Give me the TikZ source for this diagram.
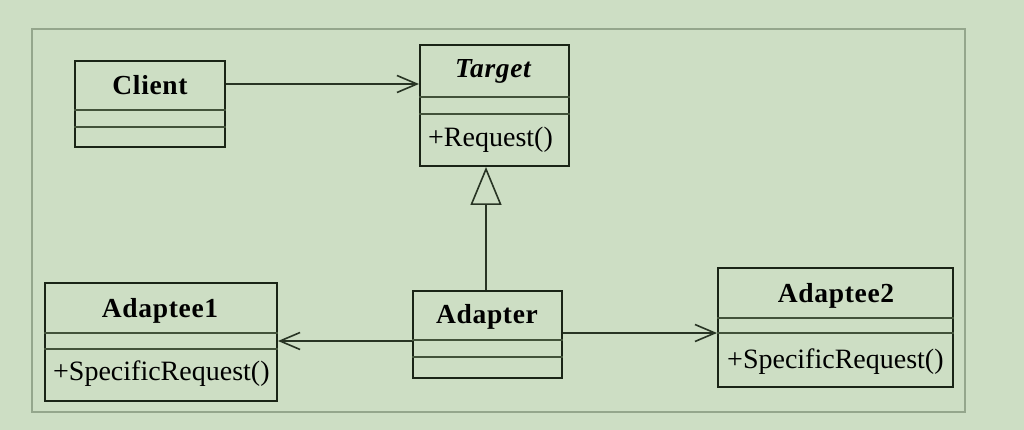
\documentclass[tikz,border=0pt]{standalone}
\usepackage{fontspec}
\setmainfont{Liberation Serif}
\newfontfamily\titlefont[LetterSpace=2.5]{Liberation Serif}
\usetikzlibrary{arrows.meta}
\definecolor{bgc}{RGB}{205,222,196}
\definecolor{framec}{RGB}{148,166,140}
\definecolor{boxc}{RGB}{26,36,22}
\definecolor{divc}{RGB}{66,82,58}
\definecolor{linec}{RGB}{40,52,36}
\begin{document}
\begin{tikzpicture}[x=1pt,y=-1pt,
  cls/.style={draw=boxc, line width=2pt, inner sep=0pt, anchor=north west},
  divider/.style={draw=divc, line width=2pt},
  title/.style={font=\titlefont\fontsize{27.5}{30}\selectfont\bfseries, text=black, inner sep=0pt, anchor=base},
  ititle/.style={title, font=\titlefont\fontsize{27.5}{30}\selectfont\bfseries\itshape},
  oper/.style={font=\fontsize{28}{30}\selectfont, text=black, inner sep=0pt, anchor=base west},
  assoc/.style={draw=linec, line width=1.6pt, -{Straight Barb[length=20pt,width=17pt,line width=1.6pt]}},
  inherit/.style={draw=linec, line width=1.6pt, -{Triangle[open,length=38pt,width=31pt,line width=1.6pt]}}
]
\useasboundingbox (0,0) rectangle (1024,430);
\fill[bgc] (0,0) rectangle (1024,430);
\draw[framec, line width=2pt] (32,29) rectangle (965,412);

% classes
\node[cls, minimum width=150pt, minimum height=86pt] (client) at (74,60) {};
\node[cls, minimum width=149pt, minimum height=121pt] (target) at (419,44) {};
\node[cls, minimum width=232pt, minimum height=118pt] (adaptee1) at (44,282) {};
\node[cls, minimum width=149pt, minimum height=87pt] (adapter) at (412,290) {};
\node[cls, minimum width=235pt, minimum height=119pt] (adaptee2) at (717,267) {};

% dividers
\draw[divider] (client.west |- 0,110) -- (client.east |- 0,110);
\draw[divider] (client.west |- 0,127) -- (client.east |- 0,127);
\draw[divider] (target.west |- 0,97) -- (target.east |- 0,97);
\draw[divider] (target.west |- 0,114) -- (target.east |- 0,114);
\draw[divider] (adaptee1.west |- 0,333) -- (adaptee1.east |- 0,333);
\draw[divider] (adaptee1.west |- 0,349) -- (adaptee1.east |- 0,349);
\draw[divider] (adapter.west |- 0,340) -- (adapter.east |- 0,340);
\draw[divider] (adapter.west |- 0,357) -- (adapter.east |- 0,357);
\draw[divider] (adaptee2.west |- 0,318) -- (adaptee2.east |- 0,318);
\draw[divider] (adaptee2.west |- 0,333) -- (adaptee2.east |- 0,333);

% texts
\node[title] (clientname) at (150,95) {Client};
\node[ititle] (targetname) at (493,78) {Target};
\node[oper] (targetop) at (428,147) {+Request()};
\node[title] (adaptee1name) at (160,317) {Adaptee1};
\node[oper] (adaptee1op) at (53,380) {+SpecificRequest()};
\node[title] (adaptername) at (487,323) {Adapter};
\node[title] (adaptee2name) at (836,302) {Adaptee2};
\node[oper] (adaptee2op) at (727,368) {+SpecificRequest()};

% connectors
\draw[assoc] ([yshift=20pt]client.east) coordinate (c1) -- (c1 -| target.west);
\draw[inherit] ([xshift=-1.5pt]adapter.north) coordinate (g1) -- (g1 |- target.south);
\draw[assoc] ([yshift=-6.5pt]adapter.west) coordinate (a1) -- (a1 -| adaptee1.east);
\draw[assoc] ([yshift=1.5pt]adapter.east) coordinate (a2) -- (a2 -| adaptee2.west);
\end{tikzpicture}
\end{document}
